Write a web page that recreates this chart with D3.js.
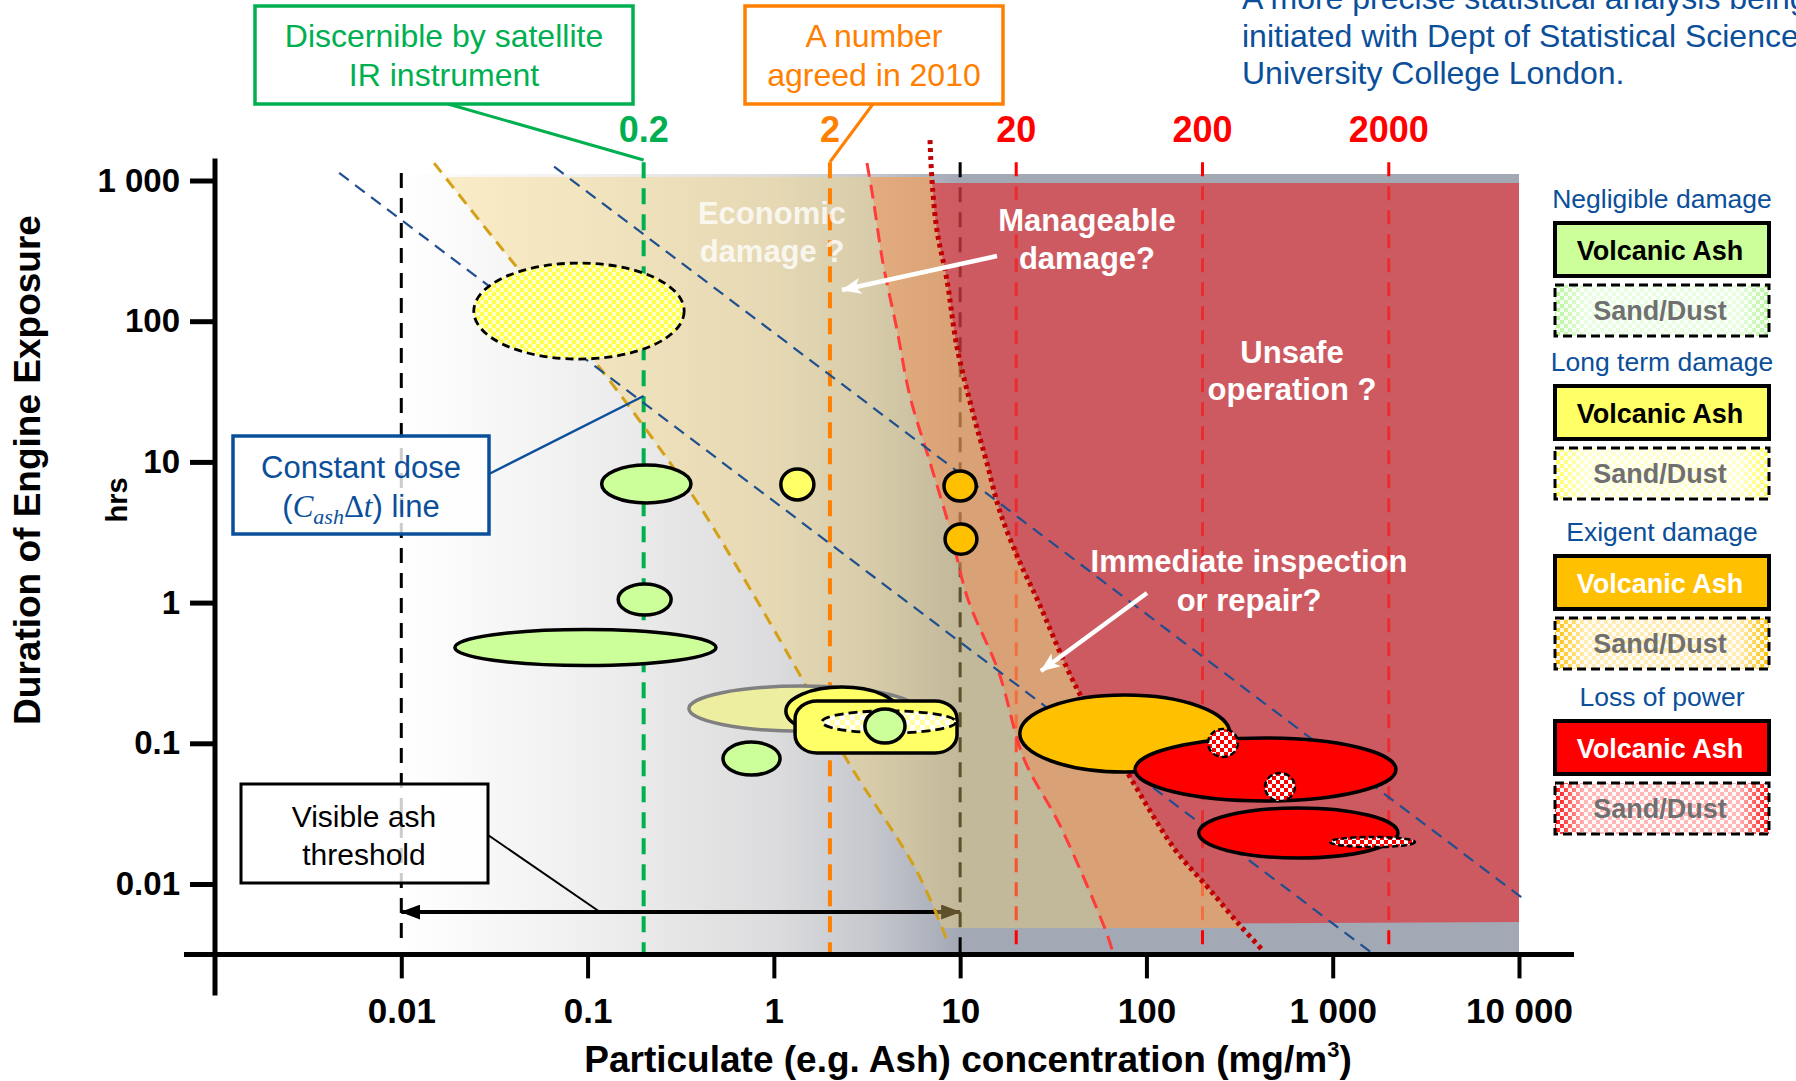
<!DOCTYPE html>
<html><head><meta charset="utf-8">
<script src="https://cdn.jsdelivr.net/npm/d3@7"></script>
<style>
html,body{margin:0;padding:0;background:#fff;}
svg{display:block;font-family:"Liberation Sans",Arial,sans-serif;}
</style>
</head><body>
<svg id="chart" width="1796" height="1081"></svg>
<script>
// ---------------- DATA ----------------
const xTickValues = [0.01, 0.1, 1, 10, 100, 1000, 10000];
const xTickLabels = ["0.01", "0.1", "1", "10", "100", "1 000", "10 000"];
const yTickValues = [0.01, 0.1, 1, 10, 100, 1000];
const yTickLabels = ["0.01", "0.1", "1", "10", "100", "1 000"];

const thresholdValues = [0.2, 2, 20, 200, 2000];
const thresholdLabels = ["0.2", "2", "20", "200", "2000"];
const referenceValues = [0.01, 10];          // black dashed lines
const referenceTopHrs = [1130, 1350];
const thresholdTopHrs = 1350;
const axisBottomHrs = 0.00316;

// visible ash threshold arrow [conc from, conc to], hrs
const visibleAshRange = [0.01, 10];
const visibleAshHrs = 0.00632;

// constant dose lines (two end points each: [conc, hrs])
const doseLineA = [[0.00464, 1131], [1660, 0.00316]];
const doseLineB = [[0.0661, 1253], [10498, 0.00789]];

// region boundaries [conc, hrs]
const economicBoundary = [[0.015,1330],[0.0407,252],[0.115,47.5],[0.359,6.01],[0.618,1.9],[1.49,0.256],[2.50,0.074],[5.86,0.0123],[8.71,0.00367]];
const manageableBoundary = [[3.16,1330],[3.40,764],[3.85,260],[4.58,87],[5.38,29.2],[6.89,9.92],[8.82,3.32],[11.0,1.06],[16.1,0.321],[22.0,0.0776],[34.4,0.026],[60.7,0.0046],[65.3,0.00343]];
const unsafeBoundary = [[6.89,1937],[7.06,1008],[7.50,446],[8.49,197],[9.61,65.9],[11.7,22.4],[13.9,9.9],[16.4,4.38],[20.9,1.94],[25.9,1.06],[42.4,0.244],[76.7,0.066],[141,0.0179],[216,0.0093],[318,0.00508],[422,0.00337]];
const backgroundTopHrs = 1112;
const overlayHrs = [1059, 0.00486];
const unsafeTopHrs = 960;
const unsafeBottomHrs = [0.00486, 0.00537];

// observations: [conc min, conc max, hrs min, hrs max]
const negligibleAsh = [[0.119,0.359,5.10,9.51],[0.146,0.281,0.817,1.355],[0.0194,0.489,0.357,0.644],[0.533,1.08,0.0595,0.102]];
const negligibleAshOnBox = [[3.08,5.06,0.1004,0.175]];
const longTermAsh = [[1.09,1.64,5.37,8.92],[1.16,4.64,0.1146,0.251]];
const longTermAshBox = [[1.30,9.62,0.0853,0.200]];
const longTermSand = [[0.0245,0.330,53.8,259]];
const longTermSandInBox = [[1.81,9.50,0.1183,0.170]];
const longTermFaded = [[0.350,5.72,0.122,0.255]];
const exigentAsh = [[8.19,12.2,5.27,8.62],[8.30,12.3,2.21,3.62],[20.9,281,0.0625,0.220]];
const lossPowerAsh = [[86.9,2186,0.0389,0.109],[191,2240,0.0153,0.0347]];
const lossPowerSand = [[214,310,0.080,0.1265],[433,627,0.0389,0.0615],[967,2766,0.0183,0.0216]];

const legendGroups = ["Negligible damage", "Long term damage", "Exigent damage", "Loss of power"];
const legendItems = ["Volcanic Ash", "Sand/Dust"];

// ---------------- CHART ----------------
const svg = d3.select("#chart");
const x = d3.scaleLog().domain([0.001, 10000]).range([215, 1519]);
const y = d3.scaleLog().domain([0.01, 1000]).range([884, 180.5]);

const C = {green:"#00b050", orange:"#ff8000", red:"#ff0000", blue:"#0b4f9a", dose:"#1f4f8f",
  gAsh:"#ccff99", yAsh:"#ffff66", oAsh:"#ffc000", rAsh:"#ff0000"};

const defs = svg.append("defs");
const grad = defs.append("linearGradient").attr("id","bgGrad")
  .attr("gradientUnits","userSpaceOnUse").attr("x1",x(0.01)).attr("x2",x(10000)).attr("y1",0).attr("y2",0);
[[0,"#ffffff"],[0.168,"#efefef"],[0.334,"#dcdcde"],[0.42,"#c6c8ce"],[0.5,"#a3a8b5"],[1,"#a3a8b5"]]
  .forEach(s=>grad.append("stop").attr("offset",s[0]).attr("stop-color",s[1]));

function checker(id, fg, bg, s) {
  const p = defs.append("pattern").attr("id",id).attr("patternUnits","userSpaceOnUse")
    .attr("width",2*s).attr("height",2*s);
  p.append("rect").attr("width",2*s).attr("height",2*s).attr("fill",bg);
  p.append("rect").attr("width",s).attr("height",s).attr("fill",fg);
  p.append("rect").attr("x",s).attr("y",s).attr("width",s).attr("height",s).attr("fill",fg);
}
checker("chkYellow","#ffff50","#ffffc8",4);
checker("chkYellowLight","#ffffa0","#ffffff",5);
checker("chkRed","#ff0000","#ffffff",4);
checker("chkLegG","#b8f59a","#f2fff0",4);
checker("chkLegY","#ffff60","#fffff0",4);
checker("chkLegO","#ffc000","#fff6e0",4);
checker("chkLegR","#ff1010","#fff0f0",4);
const wg = defs.append("linearGradient").attr("id","whiteFade");
[[0,0],[0.14,0.7],[0.86,0.7],[1,0]].forEach(s=>wg.append("stop").attr("offset",s[0]).attr("stop-color","#fff").attr("stop-opacity",s[1]));

function marker(id, w, h, fill, notch) {
  defs.append("marker").attr("id",id).attr("markerUnits","userSpaceOnUse")
    .attr("markerWidth",w).attr("markerHeight",h).attr("refX",w-1).attr("refY",h/2)
    .attr("orient","auto-start-reverse")
    .append("path").attr("d",`M0,0 L${w},${h/2} L0,${h} L${notch},${h/2} Z`).attr("fill",fill);
}
marker("arrBlack",20,15,"#000",0);
marker("arrWhite",20,16,"#fff",5);

// clip paths in data space
defs.append("clipPath").attr("id","clipOverlay").append("rect")
  .attr("x",x(0.001)).attr("y",y(overlayHrs[0])).attr("width",x(10000)-x(0.001))
  .attr("height",y(overlayHrs[1])-y(overlayHrs[0]));
defs.append("clipPath").attr("id","clipUnsafe").append("polygon")
  .attr("points",[[0.001,unsafeTopHrs],[10000,unsafeTopHrs],[10000,unsafeBottomHrs[1]],[0.001,unsafeBottomHrs[0]]]
    .map(d=>x(d[0])+","+y(d[1])).join(" "));

const curveLine = d3.line().x(d=>x(d[0])).y(d=>y(d[1])).curve(d3.curveCatmullRom.alpha(0.5));
const straight = d3.line().x(d=>x(d[0])).y(d=>y(d[1]));

// background
svg.append("rect").attr("x",x(0.01)).attr("y",y(backgroundTopHrs))
  .attr("width",x(10000)-x(0.01)).attr("height",y(axisBottomHrs)-y(backgroundTopHrs))
  .attr("fill","url(#bgGrad)");

// under-overlay lines
const under = svg.append("g");
referenceValues.forEach((v,i)=>{
  under.append("line").attr("x1",x(v)).attr("x2",x(v)).attr("y1",y(referenceTopHrs[i])).attr("y2",y(axisBottomHrs)-(i===0?10:0))
    .attr("stroke","#000").attr("stroke-width",3).attr("stroke-dasharray","15,10");
});
thresholdValues.forEach((v,i)=>{
  if (i<2) return;
  under.append("line").attr("x1",x(v)).attr("x2",x(v)).attr("y1",y(thresholdTopHrs)).attr("y2",y(axisBottomHrs))
    .attr("stroke",C.red).attr("stroke-width",3).attr("stroke-dasharray","14,10");
});
under.append("line").attr("x1",x(visibleAshRange[0])).attr("x2",x(visibleAshRange[1]))
  .attr("y1",y(visibleAshHrs)).attr("y2",y(visibleAshHrs))
  .attr("stroke","#000").attr("stroke-width",4)
  .attr("marker-start","url(#arrBlack)").attr("marker-end","url(#arrBlack)");

// overlays
function regionPath(a, b) {
  const p1 = curveLine(a), p2 = curveLine(b.slice().reverse());
  return p1 + "L" + p2.slice(1) + "Z";
}
svg.append("path").attr("d",regionPath(economicBoundary, manageableBoundary))
  .attr("fill","rgb(245,210,110)").attr("fill-opacity",0.38).attr("clip-path","url(#clipOverlay)");
svg.append("path").attr("d",regionPath(manageableBoundary, unsafeBoundary))
  .attr("fill","rgb(240,160,90)").attr("fill-opacity",0.69).attr("clip-path","url(#clipOverlay)");
const last = unsafeBoundary[unsafeBoundary.length-1], first = unsafeBoundary[0];
svg.append("path").attr("d",curveLine(unsafeBoundary)+"L"+x(10000)+","+y(last[1])+"L"+x(10000)+","+y(first[1])+"Z")
  .attr("fill","rgb(222,62,66)").attr("fill-opacity",0.73).attr("clip-path","url(#clipUnsafe)");

// over-overlay lines
const over = svg.append("g");
[[0,C.green],[1,C.orange]].forEach(([i,col])=>{
  over.append("line").attr("x1",x(thresholdValues[i])).attr("x2",x(thresholdValues[i]))
    .attr("y1",y(thresholdTopHrs)).attr("y2",y(axisBottomHrs))
    .attr("stroke",col).attr("stroke-width",4).attr("stroke-dasharray","16,10");
});
over.append("path").attr("d",curveLine(economicBoundary)).attr("fill","none")
  .attr("stroke","#d4a017").attr("stroke-width",3).attr("stroke-dasharray","12,8");
over.append("path").attr("d",curveLine(manageableBoundary)).attr("fill","none")
  .attr("stroke","#ff3b3b").attr("stroke-width",3).attr("stroke-dasharray","14,8");
over.append("path").attr("d",curveLine(unsafeBoundary)).attr("fill","none")
  .attr("stroke","#c00000").attr("stroke-width",5).attr("stroke-dasharray","4,4");
[doseLineA, doseLineB].forEach(l=>{
  over.append("path").attr("d",straight(l)).attr("fill","none")
    .attr("stroke",C.dose).attr("stroke-width",2.2).attr("stroke-dasharray","12,8");
});

// observations
const obs = svg.append("g");
function ell(d, fill, stroke, sw, dash) {
  const x0=x(d[0]), x1=x(d[1]), y0=y(d[3]), y1=y(d[2]);
  const e = obs.append("ellipse").attr("cx",(x0+x1)/2).attr("cy",(y0+y1)/2)
    .attr("rx",(x1-x0)/2).attr("ry",(y1-y0)/2).attr("fill",fill)
    .attr("stroke",stroke).attr("stroke-width",sw);
  if (dash) e.attr("stroke-dasharray",dash);
}
longTermSand.forEach(d=>ell(d,"url(#chkYellow)","#000",2.8,"8,5"));
negligibleAsh.forEach(d=>ell(d,C.gAsh,"#000",3.5));
ell(longTermAsh[0],C.yAsh,"#000",3.5);
ell(exigentAsh[0],C.oAsh,"#000",3.5);
ell(exigentAsh[1],C.oAsh,"#000",3.5);
longTermFaded.forEach(d=>ell(d,"#eeeea0","#808080",3.5));
ell(longTermAsh[1],C.yAsh,"#000",3.5);
longTermAshBox.forEach(d=>{
  obs.append("rect").attr("x",x(d[0])).attr("y",y(d[3])).attr("width",x(d[1])-x(d[0])).attr("height",y(d[2])-y(d[3]))
    .attr("rx",22).attr("ry",18).attr("fill",C.yAsh).attr("stroke","#000").attr("stroke-width",3.5);
});
longTermSandInBox.forEach(d=>ell(d,"url(#chkYellowLight)","#000",2.8,"9,5"));
negligibleAshOnBox.forEach(d=>ell(d,C.gAsh,"#000",3.5));
ell(exigentAsh[2],C.oAsh,"#000",3.5);
lossPowerAsh.forEach(d=>ell(d,C.rAsh,"#000",3.5));
lossPowerSand.forEach(d=>ell(d,"url(#chkRed)","#000",2.5,"6,3"));

// axes
const xAxisY = y(axisBottomHrs), yAxisX = x(0.001);
const gx = svg.append("g").attr("transform",`translate(0,${xAxisY})`)
  .call(d3.axisBottom(x).tickValues(xTickValues).tickFormat((d,i)=>xTickLabels[i]).tickSize(24).tickPadding(20));
gx.select(".domain").remove();
gx.selectAll(".tick line").attr("stroke","#000").attr("stroke-width",4);
gx.selectAll(".tick text").attr("font-size",35).attr("font-weight","bold").attr("fill","#000")
  .attr("font-family","Liberation Sans, Arial, sans-serif");
svg.append("line").attr("x1",x.range()[0]-31).attr("x2",x.range()[1]+55).attr("y1",xAxisY).attr("y2",xAxisY)
  .attr("stroke","#000").attr("stroke-width",5);

const gy = svg.append("g").attr("transform",`translate(${yAxisX},0)`)
  .call(d3.axisLeft(y).tickValues(yTickValues).tickFormat((d,i)=>yTickLabels[i]).tickSize(25).tickPadding(10));
gy.select(".domain").remove();
gy.selectAll(".tick line").attr("stroke","#000").attr("stroke-width",5);
gy.selectAll(".tick text").attr("font-size",33).attr("font-weight","bold").attr("fill","#000")
  .attr("font-family","Liberation Sans, Arial, sans-serif");
svg.append("line").attr("x1",yAxisX).attr("x2",yAxisX).attr("y1",y.range()[1]-22).attr("y2",xAxisY+41)
  .attr("stroke","#000").attr("stroke-width",5);

// axis titles
svg.append("text").attr("transform","translate(40,470) rotate(-90)").attr("text-anchor","middle")
  .attr("font-size",37).attr("font-weight","bold").text("Duration of Engine Exposure");
svg.append("text").attr("transform","translate(127,500) rotate(-90)").attr("text-anchor","middle")
  .attr("font-size",29).attr("font-weight","bold").text("hrs");
const xt = svg.append("text").attr("x",968).attr("y",1072).attr("text-anchor","middle")
  .attr("font-size",37).attr("font-weight","bold");
xt.append("tspan").text("Particulate (e.g. Ash) concentration (mg/m");
xt.append("tspan").attr("font-size",22).attr("dy",-15).text("3");
xt.append("tspan").attr("dy",15).text(")");

// threshold labels
const thrCol = [C.green, C.orange, C.red, C.red, C.red];
thresholdValues.forEach((v,i)=>{
  svg.append("text").attr("x",x(v)).attr("y",142).attr("text-anchor","middle")
    .attr("font-size",36).attr("font-weight","bold").attr("fill",thrCol[i]).text(thresholdLabels[i]);
});

// region labels
function multi(lines, cx, ys, size, fill, weight, opacity) {
  lines.forEach((t,i)=>svg.append("text").attr("x",cx).attr("y",ys[i]).attr("text-anchor","middle")
    .attr("font-size",size).attr("font-weight",weight).attr("fill",fill).attr("fill-opacity",opacity||1).text(t));
}
multi(["Economic","damage ?"],772,[224,262],31,"#fff","bold",0.8);
multi(["Manageable","damage?"],1087,[231,269],31,"#fff","bold");
multi(["Unsafe","operation ?"],1292,[363,400],31,"#fff","bold");
multi(["Immediate inspection","or repair?"],1249,[572,611],31,"#fff","bold");

// white arrows
svg.append("line").attr("x1",997).attr("y1",256).attr("x2",842).attr("y2",290)
  .attr("stroke","#fff").attr("stroke-width",4.5).attr("marker-end","url(#arrWhite)");
svg.append("line").attr("x1",1147).attr("y1",593).attr("x2",1041).attr("y2",671)
  .attr("stroke","#fff").attr("stroke-width",4.5).attr("marker-end","url(#arrWhite)");

// callouts
function box(x0,y0,w,h,stroke,sw,op) {
  svg.append("rect").attr("x",x0).attr("y",y0).attr("width",w).attr("height",h)
    .attr("fill","#fff").attr("fill-opacity",op).attr("stroke",stroke).attr("stroke-width",sw);
}
svg.append("polyline").attr("points",`448,104 ${x(0.2)},160`).attr("fill","none").attr("stroke",C.green).attr("stroke-width",3);
box(255,6,378,98,C.green,3.5,1);
multi(["Discernible by satellite","IR instrument"],444,[47,86],32,C.green,"normal");

svg.append("polyline").attr("points",`873,104 ${x(2)},162`).attr("fill","none").attr("stroke",C.orange).attr("stroke-width",3);
box(745,6,258,98,C.orange,3.5,1);
multi(["A number","agreed in 2010"],874,[47,86],32,C.orange,"normal");

svg.append("line").attr("x1",489).attr("y1",474).attr("x2",x(0.2)).attr("y2",396)
  .attr("stroke",C.blue).attr("stroke-width",2.5);
box(233,436,256,98,C.blue,3.5,0.8);
svg.append("text").attr("x",361).attr("y",478).attr("text-anchor","middle").attr("font-size",31)
  .attr("fill",C.blue).text("Constant dose");
const cd = svg.append("text").attr("x",361).attr("y",517).attr("text-anchor","middle").attr("font-size",31).attr("fill",C.blue);
cd.append("tspan").text("(");
cd.append("tspan").attr("font-family","Liberation Serif, serif").attr("font-style","italic").text("C");
cd.append("tspan").attr("font-family","Liberation Serif, serif").attr("font-style","italic").attr("font-size",22).attr("dy",7).text("ash");
cd.append("tspan").attr("font-family","Liberation Serif, serif").attr("dy",-7).text("\u0394");
cd.append("tspan").attr("font-family","Liberation Serif, serif").attr("font-style","italic").text("t");
cd.append("tspan").text(") line");

svg.append("line").attr("x1",488).attr("y1",835).attr("x2",600).attr("y2",y(visibleAshHrs))
  .attr("stroke","#000").attr("stroke-width",2);
box(241,784,247,99,"#000",3,0.8);
multi(["Visible ash","threshold"],364,[827,865],30,"#000","normal");

// note top-right
["A more precise statistical analysis being","initiated with Dept of Statistical Science","University College London."]
  .forEach((t,i)=>svg.append("text").attr("x",1242).attr("y",9+i*37.5).attr("font-size",32).attr("fill",C.blue).text(t));

// legend
const legFill = [[C.gAsh,"url(#chkLegG)"],[C.yAsh,"url(#chkLegY)"],[C.oAsh,"url(#chkLegO)"],[C.rAsh,"url(#chkLegR)"]];
const legTextCol = ["#000","#000","#fff","#fff"];
const titleY = [208,371,541,706];
const boxX = 1555, boxW = 214;
legendGroups.forEach((g,i)=>{
  svg.append("text").attr("x",1662).attr("y",titleY[i]).attr("text-anchor","middle")
    .attr("font-size",26.5).attr("fill",C.blue).text(g);
  const vy = titleY[i]+15;
  svg.append("rect").attr("x",boxX).attr("y",vy).attr("width",boxW).attr("height",53)
    .attr("fill",legFill[i][0]).attr("stroke","#000").attr("stroke-width",4);
  svg.append("text").attr("x",1660).attr("y",vy+37).attr("text-anchor","middle").attr("font-size",27)
    .attr("font-weight","bold").attr("fill",legTextCol[i]).text(legendItems[0]);
  const sy = vy+62;
  svg.append("rect").attr("x",boxX).attr("y",sy).attr("width",boxW).attr("height",51).attr("fill",legFill[i][1]);
  svg.append("rect").attr("x",boxX).attr("y",sy).attr("width",boxW).attr("height",51).attr("fill","url(#whiteFade)")
    .attr("stroke","#000").attr("stroke-width",3).attr("stroke-dasharray","9,5");
  svg.append("text").attr("x",1660).attr("y",sy+35).attr("text-anchor","middle").attr("font-size",27)
    .attr("font-weight","bold").attr("fill","#707070").text(legendItems[1]);
});
</script>
</body></html>
